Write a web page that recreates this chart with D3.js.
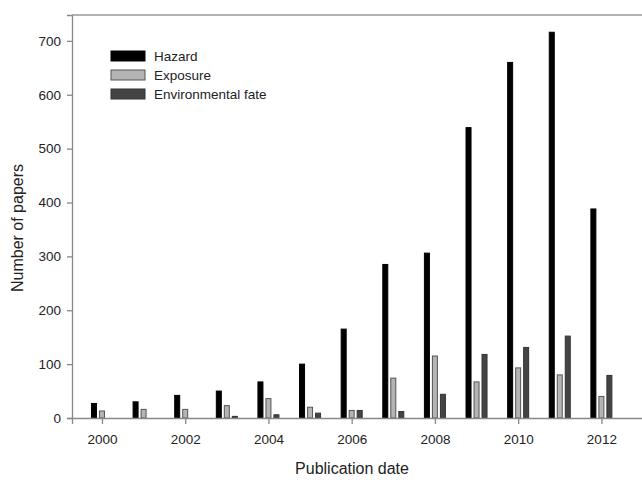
<!DOCTYPE html>
<html>
<head>
<meta charset="utf-8">
<script src="https://cdn.jsdelivr.net/npm/d3@7"></script>
<style>
  html, body { margin: 0; padding: 0; background: #fff; }
  svg { display: block; font-family: "Liberation Sans", Arial, sans-serif; }
</style>
</head>
<body>
<div id="chart"></div>
<script>
// data
const years = [2000, 2001, 2002, 2003, 2004, 2005, 2006, 2007, 2008, 2009, 2010, 2011, 2012];
const hazard = [27, 30, 42, 50, 67, 100, 165, 285, 306, 539, 660, 716, 388];
const exposure = [13, 16, 16, 23, 36, 20, 14, 74, 115, 67, 93, 80, 40];
const envFate = [0, 0, 0, 3, 6, 9, 14, 12, 44, 118, 131, 152, 79];
const seriesNames = ['Hazard', 'Exposure', 'Environmental fate'];
const xTicks = [2000, 2002, 2004, 2006, 2008, 2010, 2012];
const yTicks = [0, 100, 200, 300, 400, 500, 600, 700];

const width = 642;
const height = 482;
const plotLeft = 72, plotTop = 15, plotBottom = 418, plotRight = 643;

const fills = { 'Hazard': '#000', 'Exposure': '#b4b4b4', 'Environmental fate': '#444' };
const strokes = { 'Hazard': '#000', 'Exposure': '#555', 'Environmental fate': '#333' };

const svg = d3.select('#chart')
    .append('svg')
    .attr('width', width)
    .attr('height', height);

const xScale = d3.scaleLinear()
    .domain([1999.28, 2013])
    .range([plotLeft, plotRight]);

const yScale = d3.scaleLinear()
    .domain([0, 748])
    .range([plotBottom, plotTop]);

// position of each series inside a year group
const inner = d3.scaleBand()
    .domain(seriesNames)
    .range([-12, 12])
    .paddingInner(0.25)
    .paddingOuter(0.125);

const rows = [];
years.forEach((y, i) => {
    rows.push({ year: y, name: 'Hazard', value: hazard[i] });
    rows.push({ year: y, name: 'Exposure', value: exposure[i] });
    rows.push({ year: y, name: 'Environmental fate', value: envFate[i] });
});

svg.append('g')
    .selectAll('rect')
    .data(rows.filter(d => d.value > 0))
    .join('rect')
    .attr('x', d => xScale(d.year) + inner(d.name) + 0.5)
    .attr('y', d => yScale(d.value))
    .attr('width', inner.bandwidth() - 1)
    .attr('height', d => yScale(0) - yScale(d.value))
    .attr('fill', d => fills[d.name])
    .attr('stroke', d => strokes[d.name])
    .attr('stroke-width', 1);

// axes
const xAxis = svg.append('g')
    .attr('transform', `translate(0,${plotBottom})`)
    .call(d3.axisBottom(xScale).tickValues(xTicks).tickFormat(d3.format('d')).tickSizeOuter(0).tickSize(6).tickPadding(10));

const yAxis = svg.append('g')
    .attr('transform', `translate(${plotLeft},0)`)
    .call(d3.axisLeft(yScale).tickValues(yTicks).tickSizeOuter(0).tickSize(5).tickPadding(6));

[xAxis, yAxis].forEach(a => {
    a.select('.domain').attr('stroke', '#888').attr('stroke-width', 1.3);
    a.selectAll('.tick line').attr('stroke', '#888').attr('stroke-width', 1.3);
    a.selectAll('.tick text')
        .attr('fill', '#222')
        .style('font-size', '13.5px')
        .style('font-family', '"Liberation Sans", Arial, sans-serif');
});
xAxis.selectAll('.tick line').attr('y1', -1);

// top frame line
svg.append('line')
    .attr('x1', plotLeft).attr('x2', width)
    .attr('y1', plotTop).attr('y2', plotTop)
    .attr('stroke', '#999')
    .attr('stroke-width', 1.5);

// axis titles
svg.append('text')
    .attr('x', 352)
    .attr('y', 474)
    .attr('text-anchor', 'middle')
    .attr('fill', '#222')
    .style('font-size', '16px')
    .text('Publication date');

svg.append('text')
    .attr('transform', 'translate(23,228) rotate(-90)')
    .attr('text-anchor', 'middle')
    .attr('fill', '#222')
    .style('font-size', '16px')
    .text('Number of papers');

// legend
const legend = svg.append('g')
    .selectAll('g')
    .data(seriesNames)
    .join('g')
    .attr('transform', (d, i) => `translate(111,${51 + i * 19})`);

legend.append('rect')
    .attr('width', 34)
    .attr('height', 10)
    .attr('fill', d => fills[d])
    .attr('stroke', d => strokes[d]);

legend.append('text')
    .attr('x', 43)
    .attr('y', 10)
    .attr('fill', '#222')
    .style('font-size', '13.5px')
    .text(d => d);
</script>
</body>
</html>
